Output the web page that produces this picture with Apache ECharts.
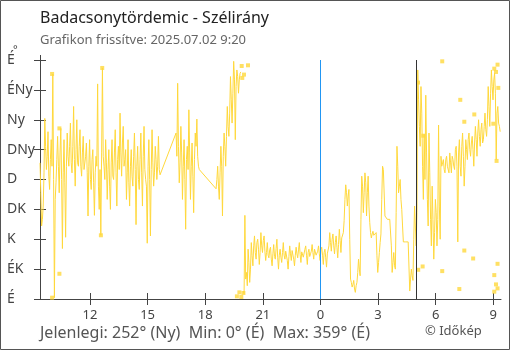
<!DOCTYPE html>
<html><head><meta charset="utf-8">
<script src="https://cdn.jsdelivr.net/npm/echarts@6/dist/echarts.min.js"></script>
<style>html,body{margin:0;padding:0;background:#fff}#c{width:510px;height:350px}</style>
</head><body><div id="c"></div>
<script>
// time axis: hours relative to midnight (negative = previous day)
const startHour = -14.6;
const stepHours = 2.5 / 60;
const G = 'gap'; // missing sample (line bridges over it)
// wind direction, degrees, one value per 2.5 minutes; null = line break at 0/360 wrap
const dirs = [
 205,160,110,120,140,190,272,230,195,215,252,185,165,210,240,200,339,180,2,150,
 175,210,245,200,160,220,257,180,76,190,240,175,93,200,250,215,200,230,265,205,
 190,230,290,210,170,225,270,205,200,230,255,200,185,220,245,195,195,215,235,190,
 125,200,240,180,165,210,225,175,126,190,215,200,324,170,135,195,96,220,348,215,
 200,180,240,205,150,195,225,170,135,205,240,185,180,220,255,190,140,210,230,195,
 280,220,185,235,260,200,210,225,150,190,240,175,140,200,225,185,170,215,250,195,
 112,200,230,180,165,210,250,190,140,215,260,195,180,170,84,200,240,180,95,195,
 255,205,170,190,230,210,180,200,245,195,187,G,G,G,G,G,G,G,G,G,
 G,G,G,G,G,G,G,G,G,G,250,215,325,230,175,205,260,220,150,200,
 240,180,105,210,230,195,285,220,150,200,235,185,130,210,250,230,271,215,200,195,
 194,G,G,G,G,G,G,G,G,G,G,G,G,G,G,G,G,G,G,G,
 166,180,200,170,150,190,230,200,125,215,250,230,200,245,290,260,245,280,335,300,
 265,310,358,330,240,320,345,335,310,330,340,342,null,null,12,8,126,30,40,20,
 75,55,25,45,85,65,50,80,95,70,60,85,90,75,52,70,100,80,70,88,
 95,72,58,70,85,66,62,74,78,60,50,68,82,64,60,76,90,62,45,66,
 75,63,55,70,85,66,60,72,72,58,45,64,80,68,58,73,70,60,50,66,
 78,68,62,74,85,67,55,71,72,63,65,75,80,66,52,70,75,64,68,72,
 82,70,60,75,78,66,65,72,80,68,58,74,78,66,52,70,75,62,48,68,
 70,80,100,85,72,90,98,80,68,85,95,78,62,82,105,88,70,92,90,100,
 118,150,172,160,140,155,165,90,30,25,18,22,28,15,10,20,25,40,60,45,
 35,120,185,170,130,160,190,175,125,160,185,140,115,100,92,98,102,96,95,98,
 100,65,40,55,70,85,98,150,200,195,192,125,123,122,120,123,122,120,118,80,
 40,55,70,50,45,130,230,200,160,170,180,150,135,110,86,86,86,86,86,86,
 86,86,12,30,45,35,28,90,140,110,80,130,345,300,260,230,320,280,200,150,
 248,180,307,220,150,110,250,190,120,80,170,120,60,100,150,130,80,120,262,140,
 90,215,200,205,210,195,190,210,215,200,200,190,220,205,190,215,210,200,195,225,
 230,200,86,220,240,200,185,230,250,215,170,200,240,225,210,240,250,225,215,235,
 245,225,200,235,260,240,215,250,270,245,230,255,265,235,240,260,280,255,245,270,
 320,290,260,310,345,320,300,330,340,310,210,280,290,265,260,252
];
// isolated readings drawn as small squares
const markerHours = [-13.97,-13.97,-13.59,-13.59,-11.43,-11.36,-4.10,-3.77,-3.98,-4.07,-4.35,-4.22,-4.12,-4.01,
  5.08,5.09,5.32,5.35,6.34,6.34,7.23,7.28,7.49,7.49,7.95,8.01,9.05,9.14,9.22,9.00,9.17,9.26,9.05,9.14,9.22,9.22,9.05];
const markerDirs  = [339,2,257,38,96,348,351,352,338,333,4,10,3,9,
  326,44,49,246,358,42,15,300,267,73,61,278,347,342,353,264,208,318,36,22,53,16,11];
const xTicks = [-12,-9,-6,-3,0,3,6,9];
const dirNames = ['É','ÉK','K','DK','D','DNy','Ny','ÉNy','É'];
const midnightHour = 0;
const sunriseHour = 5.0;
const titleText = 'Badacsonytördemic - Szélirány';
const subText = 'Grafikon frissítve: 2025.07.02 9:20';
const footText = 'Jelenlegi: 252° (Ny)  Min: 0° (É)  Max: 359° (É)';
const creditText = '© Időkép';

const lineData = [];
dirs.forEach((v, i) => { if (v !== G) lineData.push([startHour + i * stepHours, v]); });
const markerData = markerHours.map((h, i) => [h, markerDirs[i]]);

const F = 'Noto Sans';
const axisCol = '#444';
const chart = echarts.init(document.getElementById('c'), null, {renderer: 'canvas'});
const xBase = {type: 'value', min: startHour, max: startHour + 24, splitLine: {show: false}};
const yBase = {type: 'value', min: 0, max: 360, interval: 45, splitLine: {show: false}};
chart.setOption({
  animation: false,
  grid: {left: 40, right: 9, top: 60, bottom: 51},
  xAxis: [
    Object.assign({}, xBase, {
      position: 'bottom',
      axisLine: {onZero: false, lineStyle: {color: axisCol, width: 1}},
      axisTick: {customValues: xTicks, length: 6, lineStyle: {color: axisCol}},
      axisLabel: {customValues: xTicks, color: axisCol, fontSize: 13, fontFamily: F, margin: 10,
        formatter: v => String((Math.round(v) + 24) % 24)}
    }),
    Object.assign({}, xBase, {
      position: 'bottom',
      axisLine: {show: false, onZero: false},
      axisTick: {customValues: xTicks, inside: true, length: 6, lineStyle: {color: axisCol}},
      axisLabel: {show: false}
    })
  ],
  yAxis: [
    Object.assign({}, yBase, {
      position: 'left',
      axisLine: {show: true, onZero: false, lineStyle: {color: axisCol, width: 1}},
      axisTick: {show: true, length: 6, lineStyle: {color: axisCol}},
      axisLabel: {color: axisCol, fontSize: 14, fontFamily: F, align: 'left', margin: 33,
        formatter: v => dirNames[Math.round(v / 45)]}
    }),
    Object.assign({}, yBase, {
      position: 'left',
      axisLine: {show: false, onZero: false},
      axisTick: {show: true, inside: true, length: 6, lineStyle: {color: axisCol}},
      axisLabel: {show: false}
    })
  ],
  series: [
    {
      type: 'line', data: [], z: 1, silent: true,
      markLine: {silent: true, symbol: 'none', label: {show: false},
        data: [
          {xAxis: midnightHour, lineStyle: {color: '#2196f3', width: 1, type: 'solid'}},
          {xAxis: sunriseHour, lineStyle: {color: '#333', width: 1, type: 'solid'}}
        ]}
    },
    {
      type: 'line', data: lineData, z: 3, showSymbol: false, connectNulls: false,
      lineStyle: {color: '#ffd83c', width: 1}, itemStyle: {color: '#ffd83c'}
    },
    {
      type: 'scatter', data: markerData, z: 4, symbol: 'rect', symbolSize: 4,
      itemStyle: {color: '#ffd83c'}
    }
  ],
  graphic: [
    {type: 'rect', shape: {x: 0.5, y: 0.5, width: 509, height: 349}, style: {fill: 'none', stroke: '#555', lineWidth: 1}, z: 100},
    {type: 'line', shape: {x1: 40.5, y1: 55, x2: 40.5, y2: 60}, style: {stroke: axisCol, lineWidth: 1}},
    {type: 'text', x: 40, y: 18, style: {text: titleText, font: '16px "Noto Sans"', fill: '#222', verticalAlign: 'middle'}},
    {type: 'text', x: 40, y: 40.5, style: {text: subText, font: '13px "Noto Sans"', fill: '#666', verticalAlign: 'middle'}},
    {type: 'text', x: 13, y: 50, style: {text: '°', font: '11px "Noto Sans"', fill: axisCol, verticalAlign: 'middle'}},
    {type: 'text', x: 40, y: 333, style: {text: footText, font: '16px "Noto Sans"', fill: '#555', verticalAlign: 'middle'}},
    {type: 'text', x: 425, y: 331.5, style: {text: creditText, font: '13px "Noto Sans"', fill: '#555', verticalAlign: 'middle'}}
  ]
});
</script></body></html>
